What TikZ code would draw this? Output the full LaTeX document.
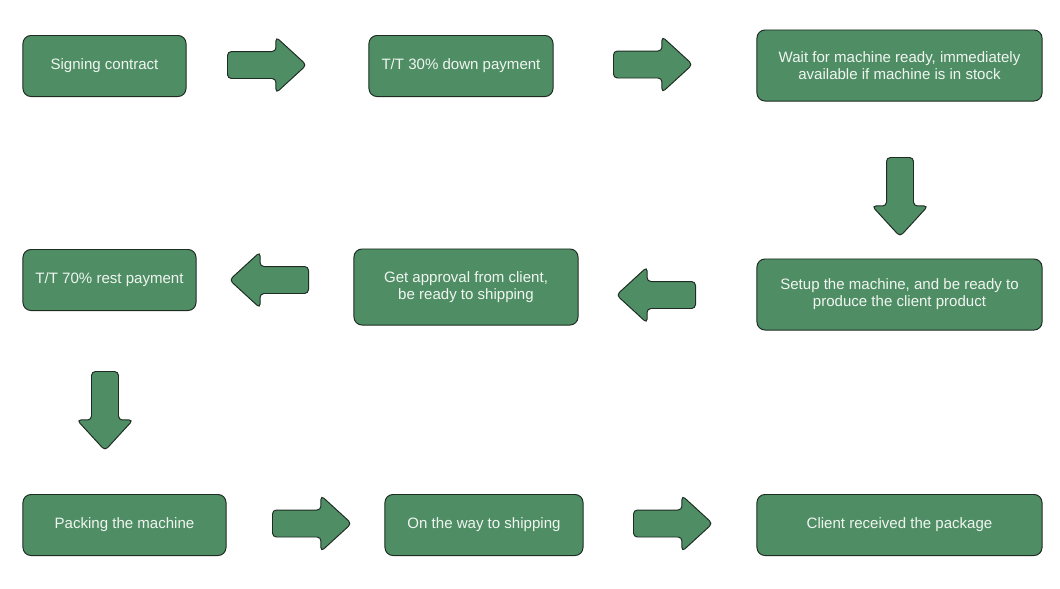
\documentclass[tikz,border=0pt]{standalone}
\usepackage{fontspec}
\setmainfont{Liberation Sans}
\usepackage{tikz}
\usetikzlibrary{shapes,shapes.arrows,positioning,calc}
\definecolor{boxgreen}{RGB}{79,142,101}
\definecolor{boxline}{RGB}{30,44,34}
\definecolor{boxtext}{RGB}{240,245,240}

\begin{document}
\begin{tikzpicture}[x=0.025cm, y=-0.025cm,
		step box/.style={rectangle, rounded corners=0.2cm, draw=boxline, line width=0.7pt, fill=boxgreen, text=boxtext, align=center, inner sep=0pt, font=\fontsize{10.7}{12.2}\selectfont},
		flow arrow/.style={single arrow, anchor=tail, draw=boxline, line width=0.7pt, fill=boxgreen, rounded corners=2.8pt, inner xsep=0pt, inner ysep=0.325cm, minimum height=1.975cm, single arrow head extend=0.3625cm, single arrow tip angle=85}]
		\useasboundingbox (0,0) rectangle (1060,588);
		% boxes
		\node[step box, minimum width=4.075cm, minimum height=1.525cm] (S) at (104.5, 66) {Signing contract};
		\node[step box, minimum width=4.6cm, minimum height=1.525cm] (D30) at (461, 66) {T/T 30\% down payment};
		\node[step box, minimum width=7.125cm, minimum height=1.775cm] (W) at (899.5, 65.5) {Wait for machine ready, immediately\\available if machine is in stock};
		\node[step box, minimum width=7.125cm, minimum height=1.775cm] (SU) at (899.5, 294.5) {Setup the machine, and be ready to\\produce the client product};
		\node[step box, minimum width=5.6cm, minimum height=1.9cm] (GA) at (466, 287) {Get approval from client,\\be ready to shipping};
		\node[step box, minimum width=4.325cm, minimum height=1.525cm] (R70) at (109.5, 280) {T/T 70\% rest payment};
		\node[step box, minimum width=5.075cm, minimum height=1.525cm] (P) at (124.5, 525) {Packing the machine};
		\node[step box, minimum width=4.95cm, minimum height=1.525cm] (OW) at (484, 525) {On the way to shipping};
		\node[step box, minimum width=7.125cm, minimum height=1.525cm] (CR) at (899.5, 525) {Client received the package};
		% arrows (placed by their tails)
		\node[flow arrow] (A1) at (227, 65) {};
		\node[flow arrow] (A2) at (613, 64.5) {};
		\node[flow arrow, rotate=-90] (A3) at (900, 157) {};
		\node[flow arrow, rotate=180] (A4) at (696, 295) {};
		\node[flow arrow, rotate=180] (A5) at (309, 280) {};
		\node[flow arrow, rotate=-90] (A6) at (105, 371) {};
		\node[flow arrow] (A7) at (272, 523.5) {};
		\node[flow arrow] (A8) at (633, 523.5) {};
	\end{tikzpicture}
\end{document}
